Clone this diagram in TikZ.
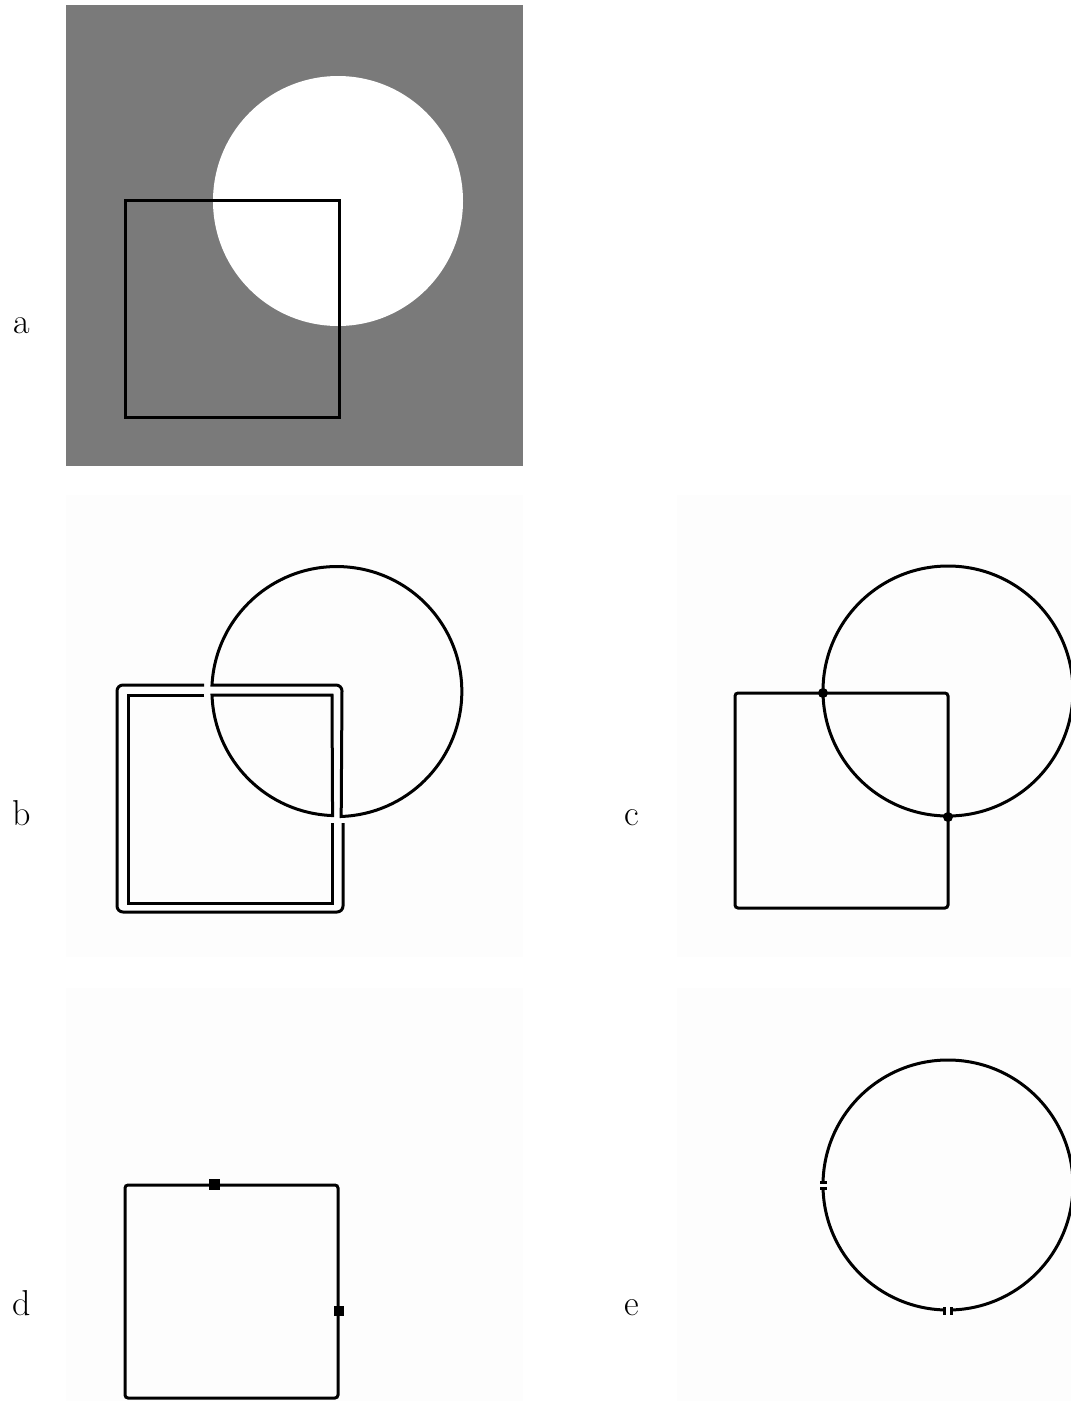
\documentclass[tikz,border=0pt]{standalone}
\usepackage{tikz}
\usetikzlibrary{positioning}
\definecolor{bggray}{RGB}{122,122,122}
\definecolor{paper}{RGB}{253,253,253}

\begin{document}
\begin{tikzpicture}[x=1pt,y=-1pt,line width=3pt,
  panel/.style={fill=paper},
  lbl/.style={anchor=base,inner sep=0pt,font=\fontsize{36}{40}\selectfont},
  hitdot/.style={fill=black}]
\useasboundingbox[fill=white] (0,0) rectangle (1071,1401);
\fill[bggray] (66,5) rectangle (523,466);
\fill[white] (338,201) circle[radius=125];
\draw (125,200) rectangle (339,417);
\node[lbl] (la) at (22,333) {a};
\fill[panel] (66,495) rectangle (523,957);
\draw[rounded corners=6pt] (204,685) -- (117,685) -- (117,912) -- (343,912) -- (343,823);
\draw (204,695) -- (128,695) -- (128,903) -- (332,903) -- (332,823);
\draw (212,685) arc[start angle=183,end angle=448,radius=125] -- (342,691) arc[start angle=0,end angle=-90,radius=6] -- cycle;
\draw (212,695) arc[start angle=178,end angle=92,radius=125] -- (332,695) -- cycle;
\node[lbl] (lb) at (22,825) {b};
\fill[panel] (677,495) rectangle (1071,957);
\draw[rounded corners=3pt] (735,693) rectangle (948,908);
\draw (948,691) circle[radius=125];
\fill[hitdot] (823,693) circle[radius=5];
\fill[hitdot] (948,817) circle[radius=5];
\node[lbl] (lc) at (632,825) {c};
\fill[panel] (66,988) rectangle (523,1401);
\draw[rounded corners=3pt] (125,1185) rectangle (338,1398);
\fill[hitdot] (209,1179) rectangle (220,1190);
\fill[hitdot] (334,1306) rectangle (344,1316);
\node[lbl] (ld) at (22,1315) {d};
\fill[panel] (677,988) rectangle (1071,1401);
\draw (948,1185) ++(181:125) arc[start angle=181,end angle=449,radius=125];
\draw (948,1185) ++(91:125) arc[start angle=91,end angle=179,radius=125];
\fill[hitdot] (820,1181) rectangle (827,1184);
\fill[hitdot] (820,1187) rectangle (827,1190);
\fill[hitdot] (943,1307) rectangle (946,1315);
\fill[hitdot] (950,1307) rectangle (953,1315);
\node[lbl] (le) at (632,1315) {e};
\end{tikzpicture}
\end{document}
